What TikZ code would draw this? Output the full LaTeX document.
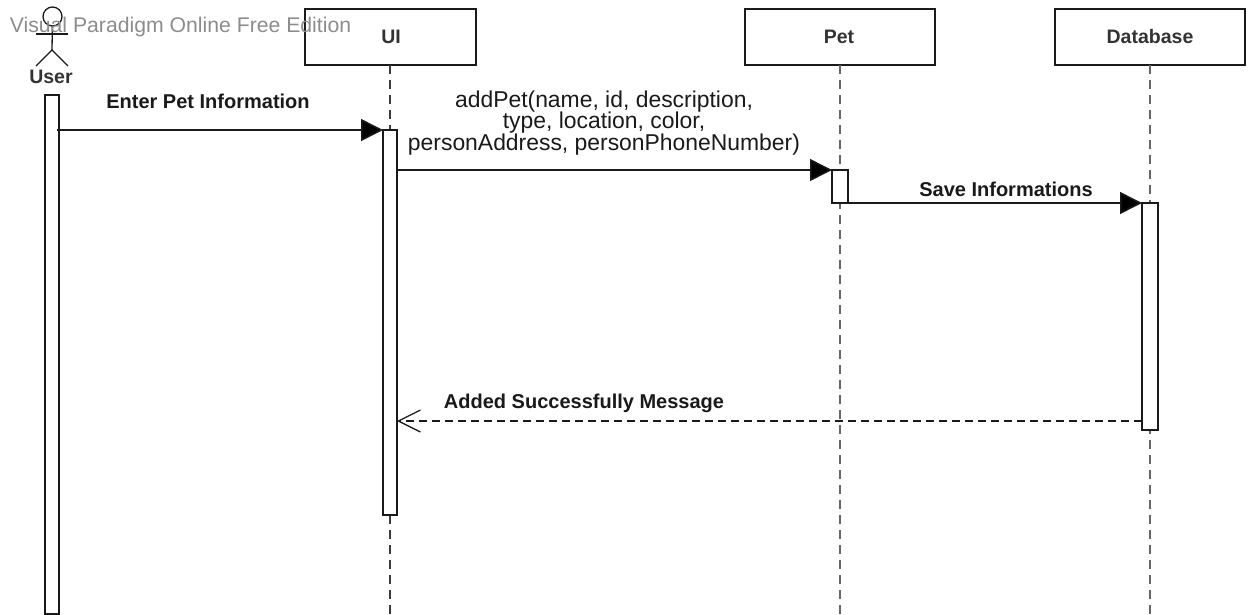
\documentclass[tikz,border=0pt]{standalone}
\usepackage{fontspec}
\setmainfont{Liberation Sans}
\usetikzlibrary{arrows.meta}
\definecolor{ink}{HTML}{1A1A1A}
\tikzset{
  x=1pt,y=-1pt,
  every node/.style={text=ink,inner sep=0pt,outer sep=0pt},
  lifebox/.style={draw=ink,line width=1.5pt,fill=white,minimum width=#1,minimum height=56pt,anchor=north west},
  head text/.style={font=\fontsize{19.5}{23}\selectfont\bfseries,text=black!80},
  bar/.style={draw=ink,line width=1.4pt,fill=white,minimum width=14pt,anchor=north west},
  life/.style={draw=ink!85,line width=1.4pt,dash pattern=on 9pt off 6pt},
  dblife/.style={draw=black!60,line width=1.9pt,dash pattern=on 9pt off 6pt},
  msg/.style={draw=ink,line width=1.5pt,-{Triangle[length=22pt,width=22pt,fill=black]}},
  reply/.style={draw=ink,line width=1.5pt,dash pattern=on 8pt off 5pt,-{Straight Barb[length=22pt,width=22pt,line width=1.3pt]}},
  actor/.style={draw=ink,line width=1.3pt},
  lbl/.style={align=center,font=\fontsize{20}{23}\selectfont\bfseries},
  lblm/.style={fill=white,align=center,inner xsep=4pt,font=\fontsize{22.9}{21.5}\selectfont},
  mark text/.style={text=black!45,font=\fontsize{21.2}{24}\selectfont}
}
\begin{document}
\begin{tikzpicture}
\useasboundingbox (0,0) rectangle (1250,614);
% lifelines
\coordinate (uiEnd) at (390,614);
\coordinate (petEnd) at (840,614);
\coordinate (dbEnd) at (1150,614);
\node[lifebox=171pt] (ui) at (305,9) {};
\node[lifebox=190pt] (pet) at (745,9) {};
\node[lifebox=190pt] (db) at (1055,9) {};
\node[head text] (uiLabel) at (391,37) {UI};
\node[head text] (petLabel) at (839,37) {Pet};
\node[head text] (dbLabel) at (1150,37) {Database};
\draw[life] (390,65) -- (uiEnd);
\draw[dblife] (840,65) -- (petEnd);
\draw[dblife] (1150,65) -- (dbEnd);
% actor
\node[circle,actor,minimum size=19pt] (head) at (52.5,16.5) {};
\coordinate (hip) at (52,50);
\coordinate (armL) at (36,34);
\coordinate (armR) at (68,34);
\coordinate (legL) at (36,66);
\coordinate (legR) at (68,66);
\draw[actor] (head) -- (hip);
\draw[actor] (armL) -- (armR);
\draw[actor] (legL) -- (hip) -- (legR);
\node[head text] (userLabel) at (51,77) {User};
% activations
\node[bar,minimum height=519pt] (userBar) at (45,95) {};
\node[bar,minimum height=385pt] (uiBar) at (383,130) {};
\node[bar,minimum width=16pt,minimum height=33pt] (petBar) at (832,170) {};
\node[bar,minimum width=16pt,minimum height=227pt] (dbBar) at (1142,203) {};
% labels
\node[lblm] (addLabel) at (604,123) {addPet(name, id, description,\\type, location, color,\\personAddress, personPhoneNumber)};
\node[lbl] (enterLabel) at (208,101) {Enter Pet Information};
\node[lbl] (saveLabel) at (1006,189) {Save Informations};
\node[lbl] (addedLabel) at (584,403) {Added Successfully Message};
% messages
\coordinate (m1s) at (57,130);
\draw[msg] (m1s) -- (uiBar.north west);
\draw[msg] (uiBar.east |- petBar.north west) -- (petBar.north west);
\draw[msg] (petBar.south west) -- (dbBar.north west);
\coordinate (m4) at (1142,421);
\draw[reply] (m4) -- (uiBar.east |- m4);
\node[mark text] (markText) at (180.5,27) {Visual Paradigm Online Free Edition};
\end{tikzpicture}
\end{document}
